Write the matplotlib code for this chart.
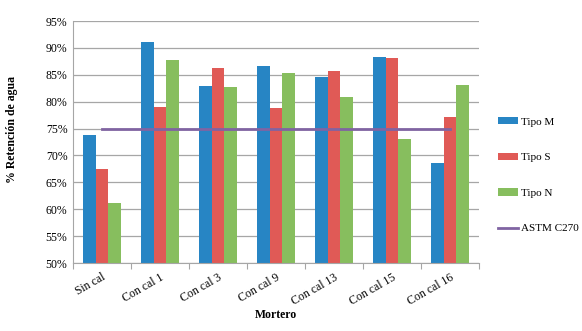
import numpy as np
import matplotlib.pyplot as plt
from matplotlib.ticker import FuncFormatter

plt.rcParams['font.family'] = ['Liberation Serif', 'DejaVu Serif']

categories = ["Sin cal", "Con cal 1", "Con cal 3", "Con cal 9", "Con cal 13", "Con cal 15", "Con cal 16"]
tipo_m = [73.8, 91.1, 82.9, 86.6, 84.6, 88.3, 68.6]
tipo_s = [67.5, 79.0, 86.2, 78.9, 85.7, 88.1, 77.1]
tipo_n = [61.1, 87.7, 82.7, 85.3, 80.9, 73.0, 83.1]
astm = [75, 75, 75, 75, 75, 75, 75]

colors = ['#2785C4', '#E05A56', '#87BE5E']
purple = '#8064A2'

fig = plt.figure(figsize=(5.82, 3.31), dpi=100)
ax = fig.add_axes([73 / 582, 1 - 263 / 331, 406 / 582, 242 / 331])

x = np.arange(len(categories))
w = 0.22
handles = []
for i, (vals, lab) in enumerate([(tipo_m, "Tipo M"), (tipo_s, "Tipo S"), (tipo_n, "Tipo N")]):
    b = ax.bar(x + (i - 1) * w, vals, width=w, color=colors[i], label=lab, zorder=2)
    handles.append(b)
ln, = ax.plot(x, astm, color=purple, lw=2, label="ASTM C270", zorder=3)
handles.append(ln)

ax.set_ylim(50, 95)
ax.set_xlim(-0.5, len(categories) - 0.5)
ax.set_yticks(np.arange(50, 96, 5))
ax.yaxis.set_major_formatter(FuncFormatter(lambda v, p: f"{v:.0f}%"))
ax.grid(axis='y', color='#A6A6A6', lw=0.9, zorder=0)
ax.set_axisbelow(True)
for s in ['top', 'right']:
    ax.spines[s].set_visible(False)
ax.spines['left'].set_color('#A6A6A6')
ax.spines['bottom'].set_color('#A6A6A6')
ax.tick_params(axis='y', length=0, labelsize=8.5, pad=4)
ax.set_xticks(np.arange(-0.5, len(categories), 1))
ax.set_xticklabels([])
ax.set_xticks(x, minor=True)
ax.set_xticklabels(categories, minor=True, rotation=30, ha='right', rotation_mode='anchor', fontsize=8.5)
ax.tick_params(axis='x', which='major', length=4, color='#A6A6A6')
ax.tick_params(axis='x', which='minor', length=0, pad=6)

ax.set_xlabel("Mortero", fontsize=8.5, fontweight='bold', labelpad=1)
ax.set_ylabel("% Retención de agua", fontsize=8.5, fontweight='bold')
ax.yaxis.set_label_coords(-0.135, 0.55)

ax.legend(handles=handles, labels=["Tipo M", "Tipo S", "Tipo N", "ASTM C270"],
          loc='center left', bbox_to_anchor=(1.048, 0.362), frameon=False, fontsize=8,
          labelspacing=2.35, handlelength=1.75, handleheight=0.6, handletextpad=0.3,
          borderaxespad=0, borderpad=0)

fig.savefig("out.png", dpi=100)
